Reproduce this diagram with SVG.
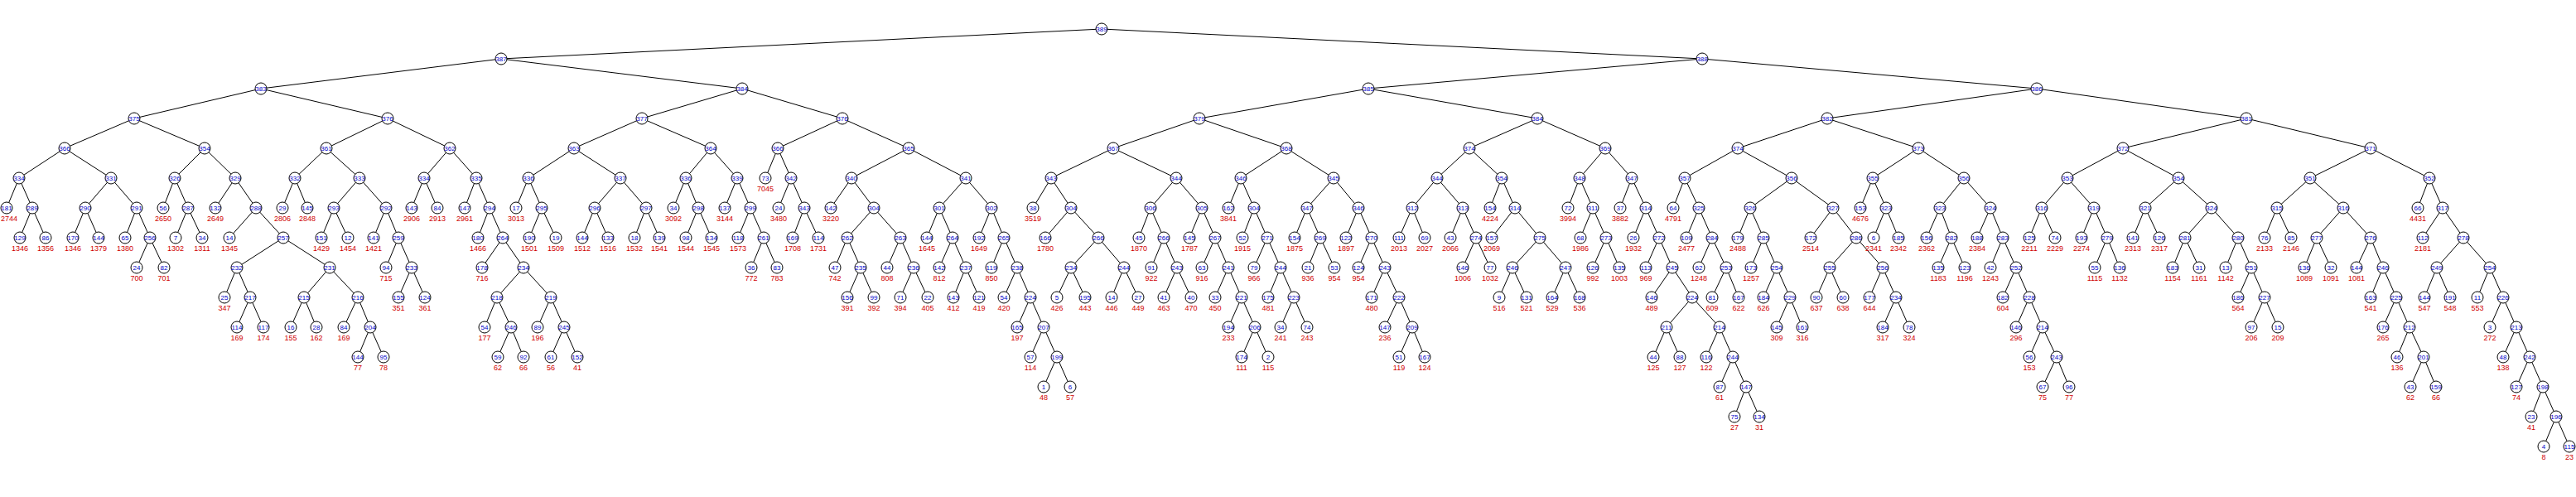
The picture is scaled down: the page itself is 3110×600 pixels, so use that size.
<svg xmlns="http://www.w3.org/2000/svg" width="3110" height="600" viewBox="0 0 3110 600">
<style>
.e path{stroke:#000;stroke-width:1;fill:none}
circle{fill:#fff;stroke:#000;stroke-width:1}
text{font-family:"Liberation Sans",Arial,sans-serif;text-anchor:middle;font-size:8px;fill:#0000c8}
text.k{font-size:9px;fill:#d00000}
</style>
<rect width="3110" height="600" fill="#fff"/>
<g class="e" id="connectors">
<path d="M1330 35L605 71"/><path d="M605 71L315 107"/><path d="M315 107L162 143"/><path d="M162 143L78 179"/><path d="M78 179L23 215"/><path d="M23 215L8 251"/><path d="M23 215L39 251"/><path d="M39 251L24 287"/><path d="M39 251L55 287"/><path d="M78 179L134 215"/><path d="M134 215L103 251"/><path d="M103 251L88 287"/><path d="M103 251L119 287"/><path d="M134 215L165 251"/><path d="M165 251L151 287"/><path d="M165 251L181 287"/><path d="M181 287L165 323"/><path d="M181 287L198 323"/><path d="M162 143L247 179"/><path d="M247 179L211 215"/><path d="M211 215L197 251"/><path d="M211 215L227 251"/><path d="M227 251L212 287"/><path d="M227 251L244 287"/><path d="M247 179L284 215"/><path d="M284 215L260 251"/><path d="M284 215L309 251"/><path d="M309 251L277 287"/><path d="M309 251L342 287"/><path d="M342 287L286 323"/><path d="M286 323L271 359"/><path d="M286 323L302 359"/><path d="M302 359L286 395"/><path d="M302 359L318 395"/><path d="M342 287L398 323"/><path d="M398 323L367 359"/><path d="M367 359L351 395"/><path d="M367 359L382 395"/><path d="M398 323L432 359"/><path d="M432 359L415 395"/><path d="M432 359L447 395"/><path d="M447 395L432 431"/><path d="M447 395L463 431"/>
<path d="M315 107L468 143"/><path d="M468 143L394 179"/><path d="M394 179L356 215"/><path d="M356 215L341 251"/><path d="M356 215L371 251"/><path d="M394 179L434 215"/><path d="M434 215L403 251"/><path d="M403 251L388 287"/><path d="M403 251L420 287"/><path d="M434 215L466 251"/><path d="M466 251L451 287"/><path d="M466 251L481 287"/><path d="M481 287L466 323"/><path d="M481 287L497 323"/><path d="M497 323L481 359"/><path d="M497 323L513 359"/><path d="M468 143L543 179"/><path d="M543 179L512 215"/><path d="M512 215L497 251"/><path d="M512 215L528 251"/><path d="M543 179L575 215"/><path d="M575 215L561 251"/><path d="M575 215L591 251"/><path d="M591 251L577 287"/><path d="M591 251L607 287"/><path d="M607 287L582 323"/><path d="M607 287L632 323"/><path d="M632 323L600 359"/><path d="M600 359L585 395"/><path d="M600 359L617 395"/><path d="M617 395L601 431"/><path d="M617 395L632 431"/><path d="M632 323L665 359"/><path d="M665 359L649 395"/><path d="M665 359L681 395"/><path d="M681 395L665 431"/><path d="M681 395L697 431"/>
<path d="M605 71L896 107"/><path d="M896 107L775 143"/><path d="M775 143L693 179"/><path d="M693 179L638 215"/><path d="M638 215L623 251"/><path d="M638 215L654 251"/><path d="M654 251L639 287"/><path d="M654 251L671 287"/><path d="M693 179L749 215"/><path d="M749 215L718 251"/><path d="M718 251L703 287"/><path d="M718 251L734 287"/><path d="M749 215L780 251"/><path d="M780 251L766 287"/><path d="M780 251L796 287"/><path d="M775 143L858 179"/><path d="M858 179L828 215"/><path d="M828 215L813 251"/><path d="M828 215L843 251"/><path d="M843 251L828 287"/><path d="M843 251L859 287"/><path d="M858 179L890 215"/><path d="M890 215L875 251"/><path d="M890 215L906 251"/><path d="M906 251L891 287"/><path d="M906 251L922 287"/><path d="M922 287L907 323"/><path d="M922 287L938 323"/>
<path d="M896 107L1017 143"/><path d="M1017 143L939 179"/><path d="M939 179L924 215"/><path d="M939 179L955 215"/><path d="M955 215L940 251"/><path d="M955 215L971 251"/><path d="M971 251L957 287"/><path d="M971 251L988 287"/><path d="M1017 143L1097 179"/><path d="M1097 179L1028 215"/><path d="M1028 215L1003 251"/><path d="M1028 215L1055 251"/><path d="M1055 251L1023 287"/><path d="M1023 287L1008 323"/><path d="M1023 287L1039 323"/><path d="M1039 323L1023 359"/><path d="M1039 323L1055 359"/><path d="M1055 251L1087 287"/><path d="M1087 287L1071 323"/><path d="M1087 287L1103 323"/><path d="M1103 323L1087 359"/><path d="M1103 323L1120 359"/><path d="M1097 179L1166 215"/><path d="M1166 215L1134 251"/><path d="M1134 251L1119 287"/><path d="M1134 251L1150 287"/><path d="M1150 287L1134 323"/><path d="M1150 287L1166 323"/><path d="M1166 323L1151 359"/><path d="M1166 323L1182 359"/><path d="M1166 215L1197 251"/><path d="M1197 251L1182 287"/><path d="M1197 251L1212 287"/><path d="M1212 287L1197 323"/><path d="M1212 287L1228 323"/><path d="M1228 323L1212 359"/><path d="M1228 323L1244 359"/><path d="M1244 359L1228 395"/><path d="M1244 359L1260 395"/><path d="M1260 395L1244 431"/><path d="M1260 395L1276 431"/><path d="M1276 431L1260 467"/><path d="M1276 431L1292 467"/>
<path d="M1330 35L2055 71"/><path d="M2055 71L1652 107"/><path d="M1652 107L1448 143"/><path d="M1448 143L1344 179"/><path d="M1344 179L1269 215"/><path d="M1269 215L1247 251"/><path d="M1269 215L1293 251"/><path d="M1293 251L1262 287"/><path d="M1293 251L1326 287"/><path d="M1326 287L1293 323"/><path d="M1293 323L1276 359"/><path d="M1293 323L1310 359"/><path d="M1326 287L1357 323"/><path d="M1357 323L1342 359"/><path d="M1357 323L1374 359"/><path d="M1344 179L1420 215"/><path d="M1420 215L1389 251"/><path d="M1389 251L1375 287"/><path d="M1389 251L1405 287"/><path d="M1405 287L1390 323"/><path d="M1405 287L1421 323"/><path d="M1421 323L1405 359"/><path d="M1421 323L1438 359"/><path d="M1420 215L1451 251"/><path d="M1451 251L1436 287"/><path d="M1451 251L1467 287"/><path d="M1467 287L1451 323"/><path d="M1467 287L1483 323"/><path d="M1483 323L1467 359"/><path d="M1483 323L1499 359"/><path d="M1499 359L1483 395"/><path d="M1499 359L1515 395"/><path d="M1515 395L1499 431"/><path d="M1515 395L1531 431"/>
<path d="M1448 143L1553 179"/><path d="M1553 179L1498 215"/><path d="M1498 215L1483 251"/><path d="M1498 215L1514 251"/><path d="M1514 251L1500 287"/><path d="M1514 251L1530 287"/><path d="M1530 287L1514 323"/><path d="M1530 287L1546 323"/><path d="M1546 323L1531 359"/><path d="M1546 323L1562 359"/><path d="M1562 359L1546 395"/><path d="M1562 359L1578 395"/><path d="M1553 179L1610 215"/><path d="M1610 215L1578 251"/><path d="M1578 251L1563 287"/><path d="M1578 251L1594 287"/><path d="M1594 287L1579 323"/><path d="M1594 287L1611 323"/><path d="M1610 215L1640 251"/><path d="M1640 251L1625 287"/><path d="M1640 251L1656 287"/><path d="M1656 287L1640 323"/><path d="M1656 287L1672 323"/><path d="M1672 323L1656 359"/><path d="M1672 323L1689 359"/><path d="M1689 359L1672 395"/><path d="M1689 359L1705 395"/><path d="M1705 395L1689 431"/><path d="M1705 395L1720 431"/>
<path d="M1652 107L1856 143"/><path d="M1856 143L1774 179"/><path d="M1774 179L1735 215"/><path d="M1735 215L1705 251"/><path d="M1705 251L1689 287"/><path d="M1705 251L1720 287"/><path d="M1735 215L1766 251"/><path d="M1766 251L1751 287"/><path d="M1766 251L1782 287"/><path d="M1782 287L1766 323"/><path d="M1782 287L1799 323"/><path d="M1774 179L1813 215"/><path d="M1813 215L1799 251"/><path d="M1813 215L1829 251"/><path d="M1829 251L1801 287"/><path d="M1829 251L1859 287"/><path d="M1859 287L1826 323"/><path d="M1826 323L1810 359"/><path d="M1826 323L1843 359"/><path d="M1859 287L1890 323"/><path d="M1890 323L1874 359"/><path d="M1890 323L1907 359"/>
<path d="M1856 143L1938 179"/><path d="M1938 179L1907 215"/><path d="M1907 215L1893 251"/><path d="M1907 215L1923 251"/><path d="M1923 251L1908 287"/><path d="M1923 251L1939 287"/><path d="M1939 287L1923 323"/><path d="M1939 287L1955 323"/><path d="M1938 179L1970 215"/><path d="M1970 215L1956 251"/><path d="M1970 215L1987 251"/><path d="M1987 251L1972 287"/><path d="M1987 251L2003 287"/><path d="M2003 287L1987 323"/><path d="M2003 287L2019 323"/><path d="M2019 323L1994 359"/><path d="M2019 323L2043 359"/><path d="M2043 359L2012 395"/><path d="M2012 395L1996 431"/><path d="M2012 395L2028 431"/><path d="M2043 359L2076 395"/><path d="M2076 395L2060 431"/><path d="M2076 395L2092 431"/><path d="M2092 431L2076 467"/><path d="M2092 431L2108 467"/><path d="M2108 467L2094 503"/><path d="M2108 467L2124 503"/>
<path d="M2055 71L2459 107"/><path d="M2459 107L2206 143"/><path d="M2206 143L2098 179"/><path d="M2098 179L2034 215"/><path d="M2034 215L2020 251"/><path d="M2034 215L2051 251"/><path d="M2051 251L2036 287"/><path d="M2051 251L2067 287"/><path d="M2067 287L2051 323"/><path d="M2067 287L2084 323"/><path d="M2084 323L2067 359"/><path d="M2084 323L2099 359"/><path d="M2098 179L2163 215"/><path d="M2163 215L2113 251"/><path d="M2113 251L2098 287"/><path d="M2113 251L2129 287"/><path d="M2129 287L2114 323"/><path d="M2129 287L2145 323"/><path d="M2145 323L2129 359"/><path d="M2145 323L2161 359"/><path d="M2161 359L2145 395"/><path d="M2161 359L2176 395"/><path d="M2163 215L2213 251"/><path d="M2213 251L2186 287"/><path d="M2213 251L2241 287"/><path d="M2241 287L2209 323"/><path d="M2209 323L2193 359"/><path d="M2209 323L2225 359"/><path d="M2241 287L2273 323"/><path d="M2273 323L2257 359"/><path d="M2273 323L2289 359"/><path d="M2289 359L2273 395"/><path d="M2289 359L2305 395"/>
<path d="M2206 143L2316 179"/><path d="M2316 179L2261 215"/><path d="M2261 215L2246 251"/><path d="M2261 215L2277 251"/><path d="M2277 251L2262 287"/><path d="M2277 251L2292 287"/><path d="M2316 179L2371 215"/><path d="M2371 215L2342 251"/><path d="M2342 251L2326 287"/><path d="M2342 251L2356 287"/><path d="M2356 287L2340 323"/><path d="M2356 287L2372 323"/><path d="M2371 215L2403 251"/><path d="M2403 251L2387 287"/><path d="M2403 251L2418 287"/><path d="M2418 287L2403 323"/><path d="M2418 287L2434 323"/><path d="M2434 323L2418 359"/><path d="M2434 323L2450 359"/><path d="M2450 359L2434 395"/><path d="M2450 359L2466 395"/><path d="M2466 395L2450 431"/><path d="M2466 395L2483 431"/><path d="M2483 431L2466 467"/><path d="M2483 431L2498 467"/>
<path d="M2459 107L2712 143"/><path d="M2712 143L2563 179"/><path d="M2563 179L2496 215"/><path d="M2496 215L2465 251"/><path d="M2465 251L2450 287"/><path d="M2465 251L2481 287"/><path d="M2496 215L2528 251"/><path d="M2528 251L2513 287"/><path d="M2528 251L2544 287"/><path d="M2544 287L2529 323"/><path d="M2544 287L2559 323"/><path d="M2563 179L2630 215"/><path d="M2630 215L2590 251"/><path d="M2590 251L2575 287"/><path d="M2590 251L2607 287"/><path d="M2630 215L2670 251"/><path d="M2670 251L2638 287"/><path d="M2638 287L2623 323"/><path d="M2638 287L2655 323"/><path d="M2670 251L2702 287"/><path d="M2702 287L2687 323"/><path d="M2702 287L2718 323"/><path d="M2718 323L2702 359"/><path d="M2718 323L2734 359"/><path d="M2734 359L2718 395"/><path d="M2734 359L2750 395"/>
<path d="M2712 143L2862 179"/><path d="M2862 179L2789 215"/><path d="M2789 215L2749 251"/><path d="M2749 251L2734 287"/><path d="M2749 251L2766 287"/><path d="M2789 215L2829 251"/><path d="M2829 251L2797 287"/><path d="M2797 287L2782 323"/><path d="M2797 287L2814 323"/><path d="M2829 251L2862 287"/><path d="M2862 287L2845 323"/><path d="M2862 287L2877 323"/><path d="M2877 323L2862 359"/><path d="M2877 323L2893 359"/><path d="M2893 359L2877 395"/><path d="M2893 359L2909 395"/><path d="M2909 395L2894 431"/><path d="M2909 395L2926 431"/><path d="M2926 431L2910 467"/><path d="M2926 431L2941 467"/><path d="M2862 179L2933 215"/><path d="M2933 215L2919 251"/><path d="M2933 215L2949 251"/><path d="M2949 251L2925 287"/><path d="M2949 251L2974 287"/><path d="M2974 287L2942 323"/><path d="M2942 323L2927 359"/><path d="M2942 323L2958 359"/><path d="M2974 287L3006 323"/><path d="M3006 323L2991 359"/><path d="M3006 323L3022 359"/><path d="M3022 359L3006 395"/><path d="M3022 359L3038 395"/><path d="M3038 395L3022 431"/><path d="M3038 395L3054 431"/><path d="M3054 431L3038 467"/><path d="M3054 431L3070 467"/><path d="M3070 467L3056 503"/><path d="M3070 467L3086 503"/><path d="M3086 503L3071 539"/><path d="M3086 503L3102 539"/>
</g>
<g id="nodes">
<g id="n0"><circle cx="1330" cy="35" r="7"/><text x="1330" y="38">389</text></g>
<g id="n1"><circle cx="605" cy="71" r="7"/><text x="605" y="74">387</text></g>
<g id="n2"><circle cx="315" cy="107" r="7"/><text x="315" y="110">383</text></g>
<g id="n3"><circle cx="162" cy="143" r="7"/><text x="162" y="146">375</text></g>
<g id="n4"><circle cx="78" cy="179" r="7"/><text x="78" y="182">366</text></g>
<g id="n5"><circle cx="23" cy="215" r="7"/><text x="23" y="218">334</text></g>
<g id="n6"><circle cx="8" cy="251" r="7"/><text x="8" y="254">181</text><text class="k" x="11" y="267">2744</text></g>
<g id="n7"><circle cx="39" cy="251" r="7"/><text x="39" y="254">289</text></g>
<g id="n8"><circle cx="24" cy="287" r="7"/><text x="24" y="290">129</text><text class="k" x="24" y="303">1346</text></g>
<g id="n9"><circle cx="55" cy="287" r="7"/><text x="55" y="290">86</text><text class="k" x="55" y="303">1356</text></g>
<g id="n10"><circle cx="134" cy="215" r="7"/><text x="134" y="218">331</text></g>
<g id="n11"><circle cx="103" cy="251" r="7"/><text x="103" y="254">290</text></g>
<g id="n12"><circle cx="88" cy="287" r="7"/><text x="88" y="290">170</text><text class="k" x="88" y="303">1346</text></g>
<g id="n13"><circle cx="119" cy="287" r="7"/><text x="119" y="290">144</text><text class="k" x="119" y="303">1379</text></g>
<g id="n14"><circle cx="165" cy="251" r="7"/><text x="165" y="254">291</text></g>
<g id="n15"><circle cx="151" cy="287" r="7"/><text x="151" y="290">65</text><text class="k" x="151" y="303">1380</text></g>
<g id="n16"><circle cx="181" cy="287" r="7"/><text x="181" y="290">256</text></g>
<g id="n17"><circle cx="165" cy="323" r="7"/><text x="165" y="326">24</text><text class="k" x="165" y="339">700</text></g>
<g id="n18"><circle cx="198" cy="323" r="7"/><text x="198" y="326">82</text><text class="k" x="198" y="339">701</text></g>
<g id="n19"><circle cx="247" cy="179" r="7"/><text x="247" y="182">354</text></g>
<g id="n20"><circle cx="211" cy="215" r="7"/><text x="211" y="218">326</text></g>
<g id="n21"><circle cx="197" cy="251" r="7"/><text x="197" y="254">56</text><text class="k" x="197" y="267">2650</text></g>
<g id="n22"><circle cx="227" cy="251" r="7"/><text x="227" y="254">287</text></g>
<g id="n23"><circle cx="212" cy="287" r="7"/><text x="212" y="290">7</text><text class="k" x="212" y="303">1302</text></g>
<g id="n24"><circle cx="244" cy="287" r="7"/><text x="244" y="290">34</text><text class="k" x="244" y="303">1311</text></g>
<g id="n25"><circle cx="284" cy="215" r="7"/><text x="284" y="218">329</text></g>
<g id="n26"><circle cx="260" cy="251" r="7"/><text x="260" y="254">132</text><text class="k" x="260" y="267">2649</text></g>
<g id="n27"><circle cx="309" cy="251" r="7"/><text x="309" y="254">288</text></g>
<g id="n28"><circle cx="277" cy="287" r="7"/><text x="277" y="290">14</text><text class="k" x="277" y="303">1345</text></g>
<g id="n29"><circle cx="342" cy="287" r="7"/><text x="342" y="290">257</text></g>
<g id="n30"><circle cx="286" cy="323" r="7"/><text x="286" y="326">232</text></g>
<g id="n31"><circle cx="271" cy="359" r="7"/><text x="271" y="362">25</text><text class="k" x="271" y="375">347</text></g>
<g id="n32"><circle cx="302" cy="359" r="7"/><text x="302" y="362">217</text></g>
<g id="n33"><circle cx="286" cy="395" r="7"/><text x="286" y="398">114</text><text class="k" x="286" y="411">169</text></g>
<g id="n34"><circle cx="318" cy="395" r="7"/><text x="318" y="398">117</text><text class="k" x="318" y="411">174</text></g>
<g id="n35"><circle cx="398" cy="323" r="7"/><text x="398" y="326">231</text></g>
<g id="n36"><circle cx="367" cy="359" r="7"/><text x="367" y="362">215</text></g>
<g id="n37"><circle cx="351" cy="395" r="7"/><text x="351" y="398">16</text><text class="k" x="351" y="411">155</text></g>
<g id="n38"><circle cx="382" cy="395" r="7"/><text x="382" y="398">28</text><text class="k" x="382" y="411">162</text></g>
<g id="n39"><circle cx="432" cy="359" r="7"/><text x="432" y="362">216</text></g>
<g id="n40"><circle cx="415" cy="395" r="7"/><text x="415" y="398">84</text><text class="k" x="415" y="411">169</text></g>
<g id="n41"><circle cx="447" cy="395" r="7"/><text x="447" y="398">204</text></g>
<g id="n42"><circle cx="432" cy="431" r="7"/><text x="432" y="434">144</text><text class="k" x="432" y="447">77</text></g>
<g id="n43"><circle cx="463" cy="431" r="7"/><text x="463" y="434">95</text><text class="k" x="463" y="447">78</text></g>
<g id="n44"><circle cx="468" cy="143" r="7"/><text x="468" y="146">376</text></g>
<g id="n45"><circle cx="394" cy="179" r="7"/><text x="394" y="182">361</text></g>
<g id="n46"><circle cx="356" cy="215" r="7"/><text x="356" y="218">332</text></g>
<g id="n47"><circle cx="341" cy="251" r="7"/><text x="341" y="254">29</text><text class="k" x="341" y="267">2806</text></g>
<g id="n48"><circle cx="371" cy="251" r="7"/><text x="371" y="254">145</text><text class="k" x="371" y="267">2848</text></g>
<g id="n49"><circle cx="434" cy="215" r="7"/><text x="434" y="218">333</text></g>
<g id="n50"><circle cx="403" cy="251" r="7"/><text x="403" y="254">293</text></g>
<g id="n51"><circle cx="388" cy="287" r="7"/><text x="388" y="290">151</text><text class="k" x="388" y="303">1429</text></g>
<g id="n52"><circle cx="420" cy="287" r="7"/><text x="420" y="290">12</text><text class="k" x="420" y="303">1454</text></g>
<g id="n53"><circle cx="466" cy="251" r="7"/><text x="466" y="254">292</text></g>
<g id="n54"><circle cx="451" cy="287" r="7"/><text x="451" y="290">141</text><text class="k" x="451" y="303">1421</text></g>
<g id="n55"><circle cx="481" cy="287" r="7"/><text x="481" y="290">259</text></g>
<g id="n56"><circle cx="466" cy="323" r="7"/><text x="466" y="326">94</text><text class="k" x="466" y="339">715</text></g>
<g id="n57"><circle cx="497" cy="323" r="7"/><text x="497" y="326">233</text></g>
<g id="n58"><circle cx="481" cy="359" r="7"/><text x="481" y="362">155</text><text class="k" x="481" y="375">351</text></g>
<g id="n59"><circle cx="513" cy="359" r="7"/><text x="513" y="362">124</text><text class="k" x="513" y="375">361</text></g>
<g id="n60"><circle cx="543" cy="179" r="7"/><text x="543" y="182">362</text></g>
<g id="n61"><circle cx="512" cy="215" r="7"/><text x="512" y="218">334</text></g>
<g id="n62"><circle cx="497" cy="251" r="7"/><text x="497" y="254">143</text><text class="k" x="497" y="267">2906</text></g>
<g id="n63"><circle cx="528" cy="251" r="7"/><text x="528" y="254">84</text><text class="k" x="528" y="267">2913</text></g>
<g id="n64"><circle cx="575" cy="215" r="7"/><text x="575" y="218">335</text></g>
<g id="n65"><circle cx="561" cy="251" r="7"/><text x="561" y="254">147</text><text class="k" x="561" y="267">2961</text></g>
<g id="n66"><circle cx="591" cy="251" r="7"/><text x="591" y="254">294</text></g>
<g id="n67"><circle cx="577" cy="287" r="7"/><text x="577" y="290">180</text><text class="k" x="577" y="303">1466</text></g>
<g id="n68"><circle cx="607" cy="287" r="7"/><text x="607" y="290">264</text></g>
<g id="n69"><circle cx="582" cy="323" r="7"/><text x="582" y="326">178</text><text class="k" x="582" y="339">716</text></g>
<g id="n70"><circle cx="632" cy="323" r="7"/><text x="632" y="326">234</text></g>
<g id="n71"><circle cx="600" cy="359" r="7"/><text x="600" y="362">218</text></g>
<g id="n72"><circle cx="585" cy="395" r="7"/><text x="585" y="398">54</text><text class="k" x="585" y="411">177</text></g>
<g id="n73"><circle cx="617" cy="395" r="7"/><text x="617" y="398">246</text></g>
<g id="n74"><circle cx="601" cy="431" r="7"/><text x="601" y="434">59</text><text class="k" x="601" y="447">62</text></g>
<g id="n75"><circle cx="632" cy="431" r="7"/><text x="632" y="434">92</text><text class="k" x="632" y="447">66</text></g>
<g id="n76"><circle cx="665" cy="359" r="7"/><text x="665" y="362">219</text></g>
<g id="n77"><circle cx="649" cy="395" r="7"/><text x="649" y="398">89</text><text class="k" x="649" y="411">196</text></g>
<g id="n78"><circle cx="681" cy="395" r="7"/><text x="681" y="398">245</text></g>
<g id="n79"><circle cx="665" cy="431" r="7"/><text x="665" y="434">61</text><text class="k" x="665" y="447">56</text></g>
<g id="n80"><circle cx="697" cy="431" r="7"/><text x="697" y="434">152</text><text class="k" x="697" y="447">41</text></g>
<g id="n81"><circle cx="896" cy="107" r="7"/><text x="896" y="110">384</text></g>
<g id="n82"><circle cx="775" cy="143" r="7"/><text x="775" y="146">377</text></g>
<g id="n83"><circle cx="693" cy="179" r="7"/><text x="693" y="182">363</text></g>
<g id="n84"><circle cx="638" cy="215" r="7"/><text x="638" y="218">336</text></g>
<g id="n85"><circle cx="623" cy="251" r="7"/><text x="623" y="254">17</text><text class="k" x="623" y="267">3013</text></g>
<g id="n86"><circle cx="654" cy="251" r="7"/><text x="654" y="254">295</text></g>
<g id="n87"><circle cx="639" cy="287" r="7"/><text x="639" y="290">190</text><text class="k" x="639" y="303">1501</text></g>
<g id="n88"><circle cx="671" cy="287" r="7"/><text x="671" y="290">19</text><text class="k" x="671" y="303">1509</text></g>
<g id="n89"><circle cx="749" cy="215" r="7"/><text x="749" y="218">337</text></g>
<g id="n90"><circle cx="718" cy="251" r="7"/><text x="718" y="254">296</text></g>
<g id="n91"><circle cx="703" cy="287" r="7"/><text x="703" y="290">144</text><text class="k" x="703" y="303">1512</text></g>
<g id="n92"><circle cx="734" cy="287" r="7"/><text x="734" y="290">133</text><text class="k" x="734" y="303">1516</text></g>
<g id="n93"><circle cx="780" cy="251" r="7"/><text x="780" y="254">297</text></g>
<g id="n94"><circle cx="766" cy="287" r="7"/><text x="766" y="290">18</text><text class="k" x="766" y="303">1532</text></g>
<g id="n95"><circle cx="796" cy="287" r="7"/><text x="796" y="290">139</text><text class="k" x="796" y="303">1541</text></g>
<g id="n96"><circle cx="858" cy="179" r="7"/><text x="858" y="182">364</text></g>
<g id="n97"><circle cx="828" cy="215" r="7"/><text x="828" y="218">336</text></g>
<g id="n98"><circle cx="813" cy="251" r="7"/><text x="813" y="254">34</text><text class="k" x="813" y="267">3092</text></g>
<g id="n99"><circle cx="843" cy="251" r="7"/><text x="843" y="254">298</text></g>
<g id="n100"><circle cx="828" cy="287" r="7"/><text x="828" y="290">98</text><text class="k" x="828" y="303">1544</text></g>
<g id="n101"><circle cx="859" cy="287" r="7"/><text x="859" y="290">134</text><text class="k" x="859" y="303">1545</text></g>
<g id="n102"><circle cx="890" cy="215" r="7"/><text x="890" y="218">339</text></g>
<g id="n103"><circle cx="875" cy="251" r="7"/><text x="875" y="254">137</text><text class="k" x="875" y="267">3144</text></g>
<g id="n104"><circle cx="906" cy="251" r="7"/><text x="906" y="254">299</text></g>
<g id="n105"><circle cx="891" cy="287" r="7"/><text x="891" y="290">118</text><text class="k" x="891" y="303">1573</text></g>
<g id="n106"><circle cx="922" cy="287" r="7"/><text x="922" y="290">261</text></g>
<g id="n107"><circle cx="907" cy="323" r="7"/><text x="907" y="326">36</text><text class="k" x="907" y="339">772</text></g>
<g id="n108"><circle cx="938" cy="323" r="7"/><text x="938" y="326">83</text><text class="k" x="938" y="339">783</text></g>
<g id="n109"><circle cx="1017" cy="143" r="7"/><text x="1017" y="146">376</text></g>
<g id="n110"><circle cx="939" cy="179" r="7"/><text x="939" y="182">366</text></g>
<g id="n111"><circle cx="924" cy="215" r="7"/><text x="924" y="218">73</text><text class="k" x="924" y="231">7045</text></g>
<g id="n112"><circle cx="955" cy="215" r="7"/><text x="955" y="218">342</text></g>
<g id="n113"><circle cx="940" cy="251" r="7"/><text x="940" y="254">24</text><text class="k" x="940" y="267">3480</text></g>
<g id="n114"><circle cx="971" cy="251" r="7"/><text x="971" y="254">343</text></g>
<g id="n115"><circle cx="957" cy="287" r="7"/><text x="957" y="290">169</text><text class="k" x="957" y="303">1708</text></g>
<g id="n116"><circle cx="988" cy="287" r="7"/><text x="988" y="290">114</text><text class="k" x="988" y="303">1731</text></g>
<g id="n117"><circle cx="1097" cy="179" r="7"/><text x="1097" y="182">365</text></g>
<g id="n118"><circle cx="1028" cy="215" r="7"/><text x="1028" y="218">340</text></g>
<g id="n119"><circle cx="1003" cy="251" r="7"/><text x="1003" y="254">142</text><text class="k" x="1003" y="267">3220</text></g>
<g id="n120"><circle cx="1055" cy="251" r="7"/><text x="1055" y="254">304</text></g>
<g id="n121"><circle cx="1023" cy="287" r="7"/><text x="1023" y="290">262</text></g>
<g id="n122"><circle cx="1008" cy="323" r="7"/><text x="1008" y="326">47</text><text class="k" x="1008" y="339">742</text></g>
<g id="n123"><circle cx="1039" cy="323" r="7"/><text x="1039" y="326">235</text></g>
<g id="n124"><circle cx="1023" cy="359" r="7"/><text x="1023" y="362">156</text><text class="k" x="1023" y="375">391</text></g>
<g id="n125"><circle cx="1055" cy="359" r="7"/><text x="1055" y="362">99</text><text class="k" x="1055" y="375">392</text></g>
<g id="n126"><circle cx="1087" cy="287" r="7"/><text x="1087" y="290">263</text></g>
<g id="n127"><circle cx="1071" cy="323" r="7"/><text x="1071" y="326">44</text><text class="k" x="1071" y="339">808</text></g>
<g id="n128"><circle cx="1103" cy="323" r="7"/><text x="1103" y="326">236</text></g>
<g id="n129"><circle cx="1087" cy="359" r="7"/><text x="1087" y="362">71</text><text class="k" x="1087" y="375">394</text></g>
<g id="n130"><circle cx="1120" cy="359" r="7"/><text x="1120" y="362">22</text><text class="k" x="1120" y="375">405</text></g>
<g id="n131"><circle cx="1166" cy="215" r="7"/><text x="1166" y="218">341</text></g>
<g id="n132"><circle cx="1134" cy="251" r="7"/><text x="1134" y="254">301</text></g>
<g id="n133"><circle cx="1119" cy="287" r="7"/><text x="1119" y="290">144</text><text class="k" x="1119" y="303">1645</text></g>
<g id="n134"><circle cx="1150" cy="287" r="7"/><text x="1150" y="290">264</text></g>
<g id="n135"><circle cx="1134" cy="323" r="7"/><text x="1134" y="326">142</text><text class="k" x="1134" y="339">812</text></g>
<g id="n136"><circle cx="1166" cy="323" r="7"/><text x="1166" y="326">237</text></g>
<g id="n137"><circle cx="1151" cy="359" r="7"/><text x="1151" y="362">143</text><text class="k" x="1151" y="375">412</text></g>
<g id="n138"><circle cx="1182" cy="359" r="7"/><text x="1182" y="362">121</text><text class="k" x="1182" y="375">419</text></g>
<g id="n139"><circle cx="1197" cy="251" r="7"/><text x="1197" y="254">302</text></g>
<g id="n140"><circle cx="1182" cy="287" r="7"/><text x="1182" y="290">192</text><text class="k" x="1182" y="303">1649</text></g>
<g id="n141"><circle cx="1212" cy="287" r="7"/><text x="1212" y="290">265</text></g>
<g id="n142"><circle cx="1197" cy="323" r="7"/><text x="1197" y="326">119</text><text class="k" x="1197" y="339">850</text></g>
<g id="n143"><circle cx="1228" cy="323" r="7"/><text x="1228" y="326">238</text></g>
<g id="n144"><circle cx="1212" cy="359" r="7"/><text x="1212" y="362">54</text><text class="k" x="1212" y="375">420</text></g>
<g id="n145"><circle cx="1244" cy="359" r="7"/><text x="1244" y="362">224</text></g>
<g id="n146"><circle cx="1228" cy="395" r="7"/><text x="1228" y="398">165</text><text class="k" x="1228" y="411">197</text></g>
<g id="n147"><circle cx="1260" cy="395" r="7"/><text x="1260" y="398">207</text></g>
<g id="n148"><circle cx="1244" cy="431" r="7"/><text x="1244" y="434">57</text><text class="k" x="1244" y="447">114</text></g>
<g id="n149"><circle cx="1276" cy="431" r="7"/><text x="1276" y="434">199</text></g>
<g id="n150"><circle cx="1260" cy="467" r="7"/><text x="1260" y="470">1</text><text class="k" x="1260" y="483">48</text></g>
<g id="n151"><circle cx="1292" cy="467" r="7"/><text x="1292" y="470">6</text><text class="k" x="1292" y="483">57</text></g>
<g id="n152"><circle cx="2055" cy="71" r="7"/><text x="2055" y="74">388</text></g>
<g id="n153"><circle cx="1652" cy="107" r="7"/><text x="1652" y="110">385</text></g>
<g id="n154"><circle cx="1448" cy="143" r="7"/><text x="1448" y="146">379</text></g>
<g id="n155"><circle cx="1344" cy="179" r="7"/><text x="1344" y="182">367</text></g>
<g id="n156"><circle cx="1269" cy="215" r="7"/><text x="1269" y="218">343</text></g>
<g id="n157"><circle cx="1247" cy="251" r="7"/><text x="1247" y="254">38</text><text class="k" x="1247" y="267">3519</text></g>
<g id="n158"><circle cx="1293" cy="251" r="7"/><text x="1293" y="254">304</text></g>
<g id="n159"><circle cx="1262" cy="287" r="7"/><text x="1262" y="290">166</text><text class="k" x="1262" y="303">1780</text></g>
<g id="n160"><circle cx="1326" cy="287" r="7"/><text x="1326" y="290">266</text></g>
<g id="n161"><circle cx="1293" cy="323" r="7"/><text x="1293" y="326">234</text></g>
<g id="n162"><circle cx="1276" cy="359" r="7"/><text x="1276" y="362">5</text><text class="k" x="1276" y="375">426</text></g>
<g id="n163"><circle cx="1310" cy="359" r="7"/><text x="1310" y="362">195</text><text class="k" x="1310" y="375">443</text></g>
<g id="n164"><circle cx="1357" cy="323" r="7"/><text x="1357" y="326">244</text></g>
<g id="n165"><circle cx="1342" cy="359" r="7"/><text x="1342" y="362">14</text><text class="k" x="1342" y="375">446</text></g>
<g id="n166"><circle cx="1374" cy="359" r="7"/><text x="1374" y="362">27</text><text class="k" x="1374" y="375">449</text></g>
<g id="n167"><circle cx="1420" cy="215" r="7"/><text x="1420" y="218">344</text></g>
<g id="n168"><circle cx="1389" cy="251" r="7"/><text x="1389" y="254">306</text></g>
<g id="n169"><circle cx="1375" cy="287" r="7"/><text x="1375" y="290">45</text><text class="k" x="1375" y="303">1870</text></g>
<g id="n170"><circle cx="1405" cy="287" r="7"/><text x="1405" y="290">266</text></g>
<g id="n171"><circle cx="1390" cy="323" r="7"/><text x="1390" y="326">91</text><text class="k" x="1390" y="339">922</text></g>
<g id="n172"><circle cx="1421" cy="323" r="7"/><text x="1421" y="326">243</text></g>
<g id="n173"><circle cx="1405" cy="359" r="7"/><text x="1405" y="362">41</text><text class="k" x="1405" y="375">463</text></g>
<g id="n174"><circle cx="1438" cy="359" r="7"/><text x="1438" y="362">40</text><text class="k" x="1438" y="375">470</text></g>
<g id="n175"><circle cx="1451" cy="251" r="7"/><text x="1451" y="254">305</text></g>
<g id="n176"><circle cx="1436" cy="287" r="7"/><text x="1436" y="290">145</text><text class="k" x="1436" y="303">1787</text></g>
<g id="n177"><circle cx="1467" cy="287" r="7"/><text x="1467" y="290">267</text></g>
<g id="n178"><circle cx="1451" cy="323" r="7"/><text x="1451" y="326">63</text><text class="k" x="1451" y="339">916</text></g>
<g id="n179"><circle cx="1483" cy="323" r="7"/><text x="1483" y="326">241</text></g>
<g id="n180"><circle cx="1467" cy="359" r="7"/><text x="1467" y="362">33</text><text class="k" x="1467" y="375">450</text></g>
<g id="n181"><circle cx="1499" cy="359" r="7"/><text x="1499" y="362">221</text></g>
<g id="n182"><circle cx="1483" cy="395" r="7"/><text x="1483" y="398">194</text><text class="k" x="1483" y="411">233</text></g>
<g id="n183"><circle cx="1515" cy="395" r="7"/><text x="1515" y="398">206</text></g>
<g id="n184"><circle cx="1499" cy="431" r="7"/><text x="1499" y="434">174</text><text class="k" x="1499" y="447">111</text></g>
<g id="n185"><circle cx="1531" cy="431" r="7"/><text x="1531" y="434">2</text><text class="k" x="1531" y="447">115</text></g>
<g id="n186"><circle cx="1553" cy="179" r="7"/><text x="1553" y="182">368</text></g>
<g id="n187"><circle cx="1498" cy="215" r="7"/><text x="1498" y="218">346</text></g>
<g id="n188"><circle cx="1483" cy="251" r="7"/><text x="1483" y="254">162</text><text class="k" x="1483" y="267">3841</text></g>
<g id="n189"><circle cx="1514" cy="251" r="7"/><text x="1514" y="254">304</text></g>
<g id="n190"><circle cx="1500" cy="287" r="7"/><text x="1500" y="290">52</text><text class="k" x="1500" y="303">1915</text></g>
<g id="n191"><circle cx="1530" cy="287" r="7"/><text x="1530" y="290">271</text></g>
<g id="n192"><circle cx="1514" cy="323" r="7"/><text x="1514" y="326">79</text><text class="k" x="1514" y="339">966</text></g>
<g id="n193"><circle cx="1546" cy="323" r="7"/><text x="1546" y="326">244</text></g>
<g id="n194"><circle cx="1531" cy="359" r="7"/><text x="1531" y="362">175</text><text class="k" x="1531" y="375">481</text></g>
<g id="n195"><circle cx="1562" cy="359" r="7"/><text x="1562" y="362">223</text></g>
<g id="n196"><circle cx="1546" cy="395" r="7"/><text x="1546" y="398">34</text><text class="k" x="1546" y="411">241</text></g>
<g id="n197"><circle cx="1578" cy="395" r="7"/><text x="1578" y="398">74</text><text class="k" x="1578" y="411">243</text></g>
<g id="n198"><circle cx="1610" cy="215" r="7"/><text x="1610" y="218">345</text></g>
<g id="n199"><circle cx="1578" cy="251" r="7"/><text x="1578" y="254">347</text></g>
<g id="n200"><circle cx="1563" cy="287" r="7"/><text x="1563" y="290">154</text><text class="k" x="1563" y="303">1875</text></g>
<g id="n201"><circle cx="1594" cy="287" r="7"/><text x="1594" y="290">269</text></g>
<g id="n202"><circle cx="1579" cy="323" r="7"/><text x="1579" y="326">21</text><text class="k" x="1579" y="339">936</text></g>
<g id="n203"><circle cx="1611" cy="323" r="7"/><text x="1611" y="326">53</text><text class="k" x="1611" y="339">954</text></g>
<g id="n204"><circle cx="1640" cy="251" r="7"/><text x="1640" y="254">346</text></g>
<g id="n205"><circle cx="1625" cy="287" r="7"/><text x="1625" y="290">122</text><text class="k" x="1625" y="303">1897</text></g>
<g id="n206"><circle cx="1656" cy="287" r="7"/><text x="1656" y="290">270</text></g>
<g id="n207"><circle cx="1640" cy="323" r="7"/><text x="1640" y="326">124</text><text class="k" x="1640" y="339">954</text></g>
<g id="n208"><circle cx="1672" cy="323" r="7"/><text x="1672" y="326">243</text></g>
<g id="n209"><circle cx="1656" cy="359" r="7"/><text x="1656" y="362">171</text><text class="k" x="1656" y="375">480</text></g>
<g id="n210"><circle cx="1689" cy="359" r="7"/><text x="1689" y="362">222</text></g>
<g id="n211"><circle cx="1672" cy="395" r="7"/><text x="1672" y="398">147</text><text class="k" x="1672" y="411">236</text></g>
<g id="n212"><circle cx="1705" cy="395" r="7"/><text x="1705" y="398">209</text></g>
<g id="n213"><circle cx="1689" cy="431" r="7"/><text x="1689" y="434">51</text><text class="k" x="1689" y="447">119</text></g>
<g id="n214"><circle cx="1720" cy="431" r="7"/><text x="1720" y="434">167</text><text class="k" x="1720" y="447">124</text></g>
<g id="n215"><circle cx="1856" cy="143" r="7"/><text x="1856" y="146">384</text></g>
<g id="n216"><circle cx="1774" cy="179" r="7"/><text x="1774" y="182">374</text></g>
<g id="n217"><circle cx="1735" cy="215" r="7"/><text x="1735" y="218">344</text></g>
<g id="n218"><circle cx="1705" cy="251" r="7"/><text x="1705" y="254">312</text></g>
<g id="n219"><circle cx="1689" cy="287" r="7"/><text x="1689" y="290">111</text><text class="k" x="1689" y="303">2013</text></g>
<g id="n220"><circle cx="1720" cy="287" r="7"/><text x="1720" y="290">69</text><text class="k" x="1720" y="303">2027</text></g>
<g id="n221"><circle cx="1766" cy="251" r="7"/><text x="1766" y="254">313</text></g>
<g id="n222"><circle cx="1751" cy="287" r="7"/><text x="1751" y="290">43</text><text class="k" x="1751" y="303">2066</text></g>
<g id="n223"><circle cx="1782" cy="287" r="7"/><text x="1782" y="290">274</text></g>
<g id="n224"><circle cx="1766" cy="323" r="7"/><text x="1766" y="326">146</text><text class="k" x="1766" y="339">1006</text></g>
<g id="n225"><circle cx="1799" cy="323" r="7"/><text x="1799" y="326">77</text><text class="k" x="1799" y="339">1032</text></g>
<g id="n226"><circle cx="1813" cy="215" r="7"/><text x="1813" y="218">354</text></g>
<g id="n227"><circle cx="1799" cy="251" r="7"/><text x="1799" y="254">154</text><text class="k" x="1799" y="267">4224</text></g>
<g id="n228"><circle cx="1829" cy="251" r="7"/><text x="1829" y="254">314</text></g>
<g id="n229"><circle cx="1801" cy="287" r="7"/><text x="1801" y="290">157</text><text class="k" x="1801" y="303">2069</text></g>
<g id="n230"><circle cx="1859" cy="287" r="7"/><text x="1859" y="290">275</text></g>
<g id="n231"><circle cx="1826" cy="323" r="7"/><text x="1826" y="326">246</text></g>
<g id="n232"><circle cx="1810" cy="359" r="7"/><text x="1810" y="362">9</text><text class="k" x="1810" y="375">516</text></g>
<g id="n233"><circle cx="1843" cy="359" r="7"/><text x="1843" y="362">131</text><text class="k" x="1843" y="375">521</text></g>
<g id="n234"><circle cx="1890" cy="323" r="7"/><text x="1890" y="326">247</text></g>
<g id="n235"><circle cx="1874" cy="359" r="7"/><text x="1874" y="362">164</text><text class="k" x="1874" y="375">529</text></g>
<g id="n236"><circle cx="1907" cy="359" r="7"/><text x="1907" y="362">168</text><text class="k" x="1907" y="375">536</text></g>
<g id="n237"><circle cx="1938" cy="179" r="7"/><text x="1938" y="182">369</text></g>
<g id="n238"><circle cx="1907" cy="215" r="7"/><text x="1907" y="218">348</text></g>
<g id="n239"><circle cx="1893" cy="251" r="7"/><text x="1893" y="254">72</text><text class="k" x="1893" y="267">3994</text></g>
<g id="n240"><circle cx="1923" cy="251" r="7"/><text x="1923" y="254">311</text></g>
<g id="n241"><circle cx="1908" cy="287" r="7"/><text x="1908" y="290">68</text><text class="k" x="1908" y="303">1986</text></g>
<g id="n242"><circle cx="1939" cy="287" r="7"/><text x="1939" y="290">273</text></g>
<g id="n243"><circle cx="1923" cy="323" r="7"/><text x="1923" y="326">126</text><text class="k" x="1923" y="339">992</text></g>
<g id="n244"><circle cx="1955" cy="323" r="7"/><text x="1955" y="326">135</text><text class="k" x="1955" y="339">1003</text></g>
<g id="n245"><circle cx="1970" cy="215" r="7"/><text x="1970" y="218">347</text></g>
<g id="n246"><circle cx="1956" cy="251" r="7"/><text x="1956" y="254">37</text><text class="k" x="1956" y="267">3882</text></g>
<g id="n247"><circle cx="1987" cy="251" r="7"/><text x="1987" y="254">314</text></g>
<g id="n248"><circle cx="1972" cy="287" r="7"/><text x="1972" y="290">26</text><text class="k" x="1972" y="303">1932</text></g>
<g id="n249"><circle cx="2003" cy="287" r="7"/><text x="2003" y="290">272</text></g>
<g id="n250"><circle cx="1987" cy="323" r="7"/><text x="1987" y="326">113</text><text class="k" x="1987" y="339">969</text></g>
<g id="n251"><circle cx="2019" cy="323" r="7"/><text x="2019" y="326">245</text></g>
<g id="n252"><circle cx="1994" cy="359" r="7"/><text x="1994" y="362">146</text><text class="k" x="1994" y="375">489</text></g>
<g id="n253"><circle cx="2043" cy="359" r="7"/><text x="2043" y="362">224</text></g>
<g id="n254"><circle cx="2012" cy="395" r="7"/><text x="2012" y="398">211</text></g>
<g id="n255"><circle cx="1996" cy="431" r="7"/><text x="1996" y="434">44</text><text class="k" x="1996" y="447">125</text></g>
<g id="n256"><circle cx="2028" cy="431" r="7"/><text x="2028" y="434">88</text><text class="k" x="2028" y="447">127</text></g>
<g id="n257"><circle cx="2076" cy="395" r="7"/><text x="2076" y="398">214</text></g>
<g id="n258"><circle cx="2060" cy="431" r="7"/><text x="2060" y="434">116</text><text class="k" x="2060" y="447">122</text></g>
<g id="n259"><circle cx="2092" cy="431" r="7"/><text x="2092" y="434">244</text></g>
<g id="n260"><circle cx="2076" cy="467" r="7"/><text x="2076" y="470">87</text><text class="k" x="2076" y="483">61</text></g>
<g id="n261"><circle cx="2108" cy="467" r="7"/><text x="2108" y="470">147</text></g>
<g id="n262"><circle cx="2094" cy="503" r="7"/><text x="2094" y="506">75</text><text class="k" x="2094" y="519">27</text></g>
<g id="n263"><circle cx="2124" cy="503" r="7"/><text x="2124" y="506">134</text><text class="k" x="2124" y="519">31</text></g>
<g id="n264"><circle cx="2459" cy="107" r="7"/><text x="2459" y="110">386</text></g>
<g id="n265"><circle cx="2206" cy="143" r="7"/><text x="2206" y="146">382</text></g>
<g id="n266"><circle cx="2098" cy="179" r="7"/><text x="2098" y="182">374</text></g>
<g id="n267"><circle cx="2034" cy="215" r="7"/><text x="2034" y="218">357</text></g>
<g id="n268"><circle cx="2020" cy="251" r="7"/><text x="2020" y="254">64</text><text class="k" x="2020" y="267">4791</text></g>
<g id="n269"><circle cx="2051" cy="251" r="7"/><text x="2051" y="254">325</text></g>
<g id="n270"><circle cx="2036" cy="287" r="7"/><text x="2036" y="290">109</text><text class="k" x="2036" y="303">2477</text></g>
<g id="n271"><circle cx="2067" cy="287" r="7"/><text x="2067" y="290">284</text></g>
<g id="n272"><circle cx="2051" cy="323" r="7"/><text x="2051" y="326">62</text><text class="k" x="2051" y="339">1248</text></g>
<g id="n273"><circle cx="2084" cy="323" r="7"/><text x="2084" y="326">253</text></g>
<g id="n274"><circle cx="2067" cy="359" r="7"/><text x="2067" y="362">81</text><text class="k" x="2067" y="375">609</text></g>
<g id="n275"><circle cx="2099" cy="359" r="7"/><text x="2099" y="362">167</text><text class="k" x="2099" y="375">622</text></g>
<g id="n276"><circle cx="2163" cy="215" r="7"/><text x="2163" y="218">356</text></g>
<g id="n277"><circle cx="2113" cy="251" r="7"/><text x="2113" y="254">326</text></g>
<g id="n278"><circle cx="2098" cy="287" r="7"/><text x="2098" y="290">179</text><text class="k" x="2098" y="303">2488</text></g>
<g id="n279"><circle cx="2129" cy="287" r="7"/><text x="2129" y="290">285</text></g>
<g id="n280"><circle cx="2114" cy="323" r="7"/><text x="2114" y="326">173</text><text class="k" x="2114" y="339">1257</text></g>
<g id="n281"><circle cx="2145" cy="323" r="7"/><text x="2145" y="326">254</text></g>
<g id="n282"><circle cx="2129" cy="359" r="7"/><text x="2129" y="362">184</text><text class="k" x="2129" y="375">626</text></g>
<g id="n283"><circle cx="2161" cy="359" r="7"/><text x="2161" y="362">229</text></g>
<g id="n284"><circle cx="2145" cy="395" r="7"/><text x="2145" y="398">145</text><text class="k" x="2145" y="411">309</text></g>
<g id="n285"><circle cx="2176" cy="395" r="7"/><text x="2176" y="398">161</text><text class="k" x="2176" y="411">316</text></g>
<g id="n286"><circle cx="2213" cy="251" r="7"/><text x="2213" y="254">327</text></g>
<g id="n287"><circle cx="2186" cy="287" r="7"/><text x="2186" y="290">172</text><text class="k" x="2186" y="303">2514</text></g>
<g id="n288"><circle cx="2241" cy="287" r="7"/><text x="2241" y="290">286</text></g>
<g id="n289"><circle cx="2209" cy="323" r="7"/><text x="2209" y="326">255</text></g>
<g id="n290"><circle cx="2193" cy="359" r="7"/><text x="2193" y="362">90</text><text class="k" x="2193" y="375">637</text></g>
<g id="n291"><circle cx="2225" cy="359" r="7"/><text x="2225" y="362">60</text><text class="k" x="2225" y="375">638</text></g>
<g id="n292"><circle cx="2273" cy="323" r="7"/><text x="2273" y="326">256</text></g>
<g id="n293"><circle cx="2257" cy="359" r="7"/><text x="2257" y="362">177</text><text class="k" x="2257" y="375">644</text></g>
<g id="n294"><circle cx="2289" cy="359" r="7"/><text x="2289" y="362">234</text></g>
<g id="n295"><circle cx="2273" cy="395" r="7"/><text x="2273" y="398">184</text><text class="k" x="2273" y="411">317</text></g>
<g id="n296"><circle cx="2305" cy="395" r="7"/><text x="2305" y="398">78</text><text class="k" x="2305" y="411">324</text></g>
<g id="n297"><circle cx="2316" cy="179" r="7"/><text x="2316" y="182">373</text></g>
<g id="n298"><circle cx="2261" cy="215" r="7"/><text x="2261" y="218">355</text></g>
<g id="n299"><circle cx="2246" cy="251" r="7"/><text x="2246" y="254">153</text><text class="k" x="2246" y="267">4676</text></g>
<g id="n300"><circle cx="2277" cy="251" r="7"/><text x="2277" y="254">323</text></g>
<g id="n301"><circle cx="2262" cy="287" r="7"/><text x="2262" y="290">6</text><text class="k" x="2262" y="303">2341</text></g>
<g id="n302"><circle cx="2292" cy="287" r="7"/><text x="2292" y="290">185</text><text class="k" x="2292" y="303">2342</text></g>
<g id="n303"><circle cx="2371" cy="215" r="7"/><text x="2371" y="218">356</text></g>
<g id="n304"><circle cx="2342" cy="251" r="7"/><text x="2342" y="254">323</text></g>
<g id="n305"><circle cx="2326" cy="287" r="7"/><text x="2326" y="290">156</text><text class="k" x="2326" y="303">2362</text></g>
<g id="n306"><circle cx="2356" cy="287" r="7"/><text x="2356" y="290">282</text></g>
<g id="n307"><circle cx="2340" cy="323" r="7"/><text x="2340" y="326">135</text><text class="k" x="2340" y="339">1183</text></g>
<g id="n308"><circle cx="2372" cy="323" r="7"/><text x="2372" y="326">123</text><text class="k" x="2372" y="339">1196</text></g>
<g id="n309"><circle cx="2403" cy="251" r="7"/><text x="2403" y="254">324</text></g>
<g id="n310"><circle cx="2387" cy="287" r="7"/><text x="2387" y="290">188</text><text class="k" x="2387" y="303">2384</text></g>
<g id="n311"><circle cx="2418" cy="287" r="7"/><text x="2418" y="290">283</text></g>
<g id="n312"><circle cx="2403" cy="323" r="7"/><text x="2403" y="326">42</text><text class="k" x="2403" y="339">1243</text></g>
<g id="n313"><circle cx="2434" cy="323" r="7"/><text x="2434" y="326">252</text></g>
<g id="n314"><circle cx="2418" cy="359" r="7"/><text x="2418" y="362">182</text><text class="k" x="2418" y="375">604</text></g>
<g id="n315"><circle cx="2450" cy="359" r="7"/><text x="2450" y="362">228</text></g>
<g id="n316"><circle cx="2434" cy="395" r="7"/><text x="2434" y="398">146</text><text class="k" x="2434" y="411">296</text></g>
<g id="n317"><circle cx="2466" cy="395" r="7"/><text x="2466" y="398">214</text></g>
<g id="n318"><circle cx="2450" cy="431" r="7"/><text x="2450" y="434">56</text><text class="k" x="2450" y="447">153</text></g>
<g id="n319"><circle cx="2483" cy="431" r="7"/><text x="2483" y="434">243</text></g>
<g id="n320"><circle cx="2466" cy="467" r="7"/><text x="2466" y="470">67</text><text class="k" x="2466" y="483">75</text></g>
<g id="n321"><circle cx="2498" cy="467" r="7"/><text x="2498" y="470">96</text><text class="k" x="2498" y="483">77</text></g>
<g id="n322"><circle cx="2712" cy="143" r="7"/><text x="2712" y="146">381</text></g>
<g id="n323"><circle cx="2563" cy="179" r="7"/><text x="2563" y="182">372</text></g>
<g id="n324"><circle cx="2496" cy="215" r="7"/><text x="2496" y="218">353</text></g>
<g id="n325"><circle cx="2465" cy="251" r="7"/><text x="2465" y="254">316</text></g>
<g id="n326"><circle cx="2450" cy="287" r="7"/><text x="2450" y="290">125</text><text class="k" x="2450" y="303">2211</text></g>
<g id="n327"><circle cx="2481" cy="287" r="7"/><text x="2481" y="290">74</text><text class="k" x="2481" y="303">2229</text></g>
<g id="n328"><circle cx="2528" cy="251" r="7"/><text x="2528" y="254">319</text></g>
<g id="n329"><circle cx="2513" cy="287" r="7"/><text x="2513" y="290">193</text><text class="k" x="2513" y="303">2274</text></g>
<g id="n330"><circle cx="2544" cy="287" r="7"/><text x="2544" y="290">279</text></g>
<g id="n331"><circle cx="2529" cy="323" r="7"/><text x="2529" y="326">55</text><text class="k" x="2529" y="339">1115</text></g>
<g id="n332"><circle cx="2559" cy="323" r="7"/><text x="2559" y="326">136</text><text class="k" x="2559" y="339">1132</text></g>
<g id="n333"><circle cx="2630" cy="215" r="7"/><text x="2630" y="218">354</text></g>
<g id="n334"><circle cx="2590" cy="251" r="7"/><text x="2590" y="254">321</text></g>
<g id="n335"><circle cx="2575" cy="287" r="7"/><text x="2575" y="290">141</text><text class="k" x="2575" y="303">2313</text></g>
<g id="n336"><circle cx="2607" cy="287" r="7"/><text x="2607" y="290">126</text><text class="k" x="2607" y="303">2317</text></g>
<g id="n337"><circle cx="2670" cy="251" r="7"/><text x="2670" y="254">324</text></g>
<g id="n338"><circle cx="2638" cy="287" r="7"/><text x="2638" y="290">281</text></g>
<g id="n339"><circle cx="2623" cy="323" r="7"/><text x="2623" y="326">183</text><text class="k" x="2623" y="339">1154</text></g>
<g id="n340"><circle cx="2655" cy="323" r="7"/><text x="2655" y="326">31</text><text class="k" x="2655" y="339">1161</text></g>
<g id="n341"><circle cx="2702" cy="287" r="7"/><text x="2702" y="290">280</text></g>
<g id="n342"><circle cx="2687" cy="323" r="7"/><text x="2687" y="326">13</text><text class="k" x="2687" y="339">1142</text></g>
<g id="n343"><circle cx="2718" cy="323" r="7"/><text x="2718" y="326">251</text></g>
<g id="n344"><circle cx="2702" cy="359" r="7"/><text x="2702" y="362">186</text><text class="k" x="2702" y="375">564</text></g>
<g id="n345"><circle cx="2734" cy="359" r="7"/><text x="2734" y="362">227</text></g>
<g id="n346"><circle cx="2718" cy="395" r="7"/><text x="2718" y="398">97</text><text class="k" x="2718" y="411">206</text></g>
<g id="n347"><circle cx="2750" cy="395" r="7"/><text x="2750" y="398">15</text><text class="k" x="2750" y="411">209</text></g>
<g id="n348"><circle cx="2862" cy="179" r="7"/><text x="2862" y="182">371</text></g>
<g id="n349"><circle cx="2789" cy="215" r="7"/><text x="2789" y="218">351</text></g>
<g id="n350"><circle cx="2749" cy="251" r="7"/><text x="2749" y="254">315</text></g>
<g id="n351"><circle cx="2734" cy="287" r="7"/><text x="2734" y="290">76</text><text class="k" x="2734" y="303">2133</text></g>
<g id="n352"><circle cx="2766" cy="287" r="7"/><text x="2766" y="290">85</text><text class="k" x="2766" y="303">2146</text></g>
<g id="n353"><circle cx="2829" cy="251" r="7"/><text x="2829" y="254">316</text></g>
<g id="n354"><circle cx="2797" cy="287" r="7"/><text x="2797" y="290">277</text></g>
<g id="n355"><circle cx="2782" cy="323" r="7"/><text x="2782" y="326">136</text><text class="k" x="2782" y="339">1089</text></g>
<g id="n356"><circle cx="2814" cy="323" r="7"/><text x="2814" y="326">32</text><text class="k" x="2814" y="339">1091</text></g>
<g id="n357"><circle cx="2862" cy="287" r="7"/><text x="2862" y="290">276</text></g>
<g id="n358"><circle cx="2845" cy="323" r="7"/><text x="2845" y="326">144</text><text class="k" x="2845" y="339">1081</text></g>
<g id="n359"><circle cx="2877" cy="323" r="7"/><text x="2877" y="326">246</text></g>
<g id="n360"><circle cx="2862" cy="359" r="7"/><text x="2862" y="362">163</text><text class="k" x="2862" y="375">541</text></g>
<g id="n361"><circle cx="2893" cy="359" r="7"/><text x="2893" y="362">225</text></g>
<g id="n362"><circle cx="2877" cy="395" r="7"/><text x="2877" y="398">176</text><text class="k" x="2877" y="411">265</text></g>
<g id="n363"><circle cx="2909" cy="395" r="7"/><text x="2909" y="398">212</text></g>
<g id="n364"><circle cx="2894" cy="431" r="7"/><text x="2894" y="434">46</text><text class="k" x="2894" y="447">136</text></g>
<g id="n365"><circle cx="2926" cy="431" r="7"/><text x="2926" y="434">201</text></g>
<g id="n366"><circle cx="2910" cy="467" r="7"/><text x="2910" y="470">43</text><text class="k" x="2910" y="483">62</text></g>
<g id="n367"><circle cx="2941" cy="467" r="7"/><text x="2941" y="470">159</text><text class="k" x="2941" y="483">66</text></g>
<g id="n368"><circle cx="2933" cy="215" r="7"/><text x="2933" y="218">352</text></g>
<g id="n369"><circle cx="2919" cy="251" r="7"/><text x="2919" y="254">66</text><text class="k" x="2919" y="267">4431</text></g>
<g id="n370"><circle cx="2949" cy="251" r="7"/><text x="2949" y="254">317</text></g>
<g id="n371"><circle cx="2925" cy="287" r="7"/><text x="2925" y="290">112</text><text class="k" x="2925" y="303">2181</text></g>
<g id="n372"><circle cx="2974" cy="287" r="7"/><text x="2974" y="290">278</text></g>
<g id="n373"><circle cx="2942" cy="323" r="7"/><text x="2942" y="326">249</text></g>
<g id="n374"><circle cx="2927" cy="359" r="7"/><text x="2927" y="362">144</text><text class="k" x="2927" y="375">547</text></g>
<g id="n375"><circle cx="2958" cy="359" r="7"/><text x="2958" y="362">191</text><text class="k" x="2958" y="375">548</text></g>
<g id="n376"><circle cx="3006" cy="323" r="7"/><text x="3006" y="326">254</text></g>
<g id="n377"><circle cx="2991" cy="359" r="7"/><text x="2991" y="362">11</text><text class="k" x="2991" y="375">553</text></g>
<g id="n378"><circle cx="3022" cy="359" r="7"/><text x="3022" y="362">226</text></g>
<g id="n379"><circle cx="3006" cy="395" r="7"/><text x="3006" y="398">3</text><text class="k" x="3006" y="411">272</text></g>
<g id="n380"><circle cx="3038" cy="395" r="7"/><text x="3038" y="398">213</text></g>
<g id="n381"><circle cx="3022" cy="431" r="7"/><text x="3022" y="434">48</text><text class="k" x="3022" y="447">138</text></g>
<g id="n382"><circle cx="3054" cy="431" r="7"/><text x="3054" y="434">242</text></g>
<g id="n383"><circle cx="3038" cy="467" r="7"/><text x="3038" y="470">127</text><text class="k" x="3038" y="483">74</text></g>
<g id="n384"><circle cx="3070" cy="467" r="7"/><text x="3070" y="470">198</text></g>
<g id="n385"><circle cx="3056" cy="503" r="7"/><text x="3056" y="506">23</text><text class="k" x="3056" y="519">41</text></g>
<g id="n386"><circle cx="3086" cy="503" r="7"/><text x="3086" y="506">196</text></g>
<g id="n387"><circle cx="3071" cy="539" r="7"/><text x="3071" y="542">4</text><text class="k" x="3071" y="555">8</text></g>
<g id="n388"><circle cx="3102" cy="539" r="7"/><text x="3102" y="542">115</text><text class="k" x="3102" y="555">23</text></g>
</g>
</svg>
